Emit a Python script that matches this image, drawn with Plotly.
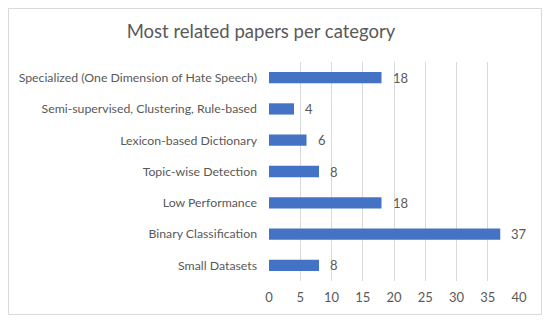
import plotly.graph_objects as go

categories = [
    "Small Datasets",
    "Binary Classification",
    "Low Performance",
    "Topic-wise Detection",
    "Lexicon-based Dictionary",
    "Semi-supervised, Clustering, Rule-based",
    "Specialized (One Dimension of Hate Speech)",
]
values = [8, 37, 18, 8, 6, 4, 18]
x_ticks = [0, 5, 10, 15, 20, 25, 30, 35, 40]

FONT = "Lato, Open Sans, sans-serif"
GREY = "#595959"

fig = go.Figure()
fig.add_trace(go.Bar(
    x=values, y=categories, orientation="h",
    marker=dict(color="#4472C4", line=dict(width=0)),
    hoverinfo="skip",
))

for c, v in zip(categories, values):
    fig.add_annotation(x=v, y=c, text=str(v), showarrow=False,
                       xanchor="left", xshift=9,
                       font=dict(family=FONT, size=13, color=GREY))

fig.add_shape(type="rect", xref="paper", yref="paper",
              x0=-1.042, x1=1.09, y0=-0.153, y1=1.2443,
              line=dict(color="#d9d9d9", width=1), fillcolor="rgba(0,0,0,0)")

fig.update_layout(
    width=542, height=312,
    margin=dict(l=261, r=31, t=54, b=39, autoexpand=False),
    paper_bgcolor="white", plot_bgcolor="white",
    bargap=0.64,
    showlegend=False,
    title=dict(text="Most related papers per category",
               x=(261 - 8) / 542, xref="container",
               xanchor="center", y=1 - 24 / 312, yref="container", yanchor="middle",
               font=dict(family=FONT, size=18.5, color=GREY)),
    font=dict(family=FONT, size=12, color=GREY),
)
fig.update_xaxes(range=[0, 40], tickvals=x_ticks, showgrid=True,
                 gridcolor="#d9d9d9", gridwidth=1, zeroline=False,
                 showline=False, ticks="", tickfont=dict(size=13, color=GREY),
                 ticklabelstandoff=7, fixedrange=True)
fig.update_yaxes(showgrid=False, zeroline=False, showline=False, ticks="",
                 ticklabelstandoff=11, tickfont=dict(size=12.3, color=GREY),
                 fixedrange=True)

fig.write_html("out.html")
